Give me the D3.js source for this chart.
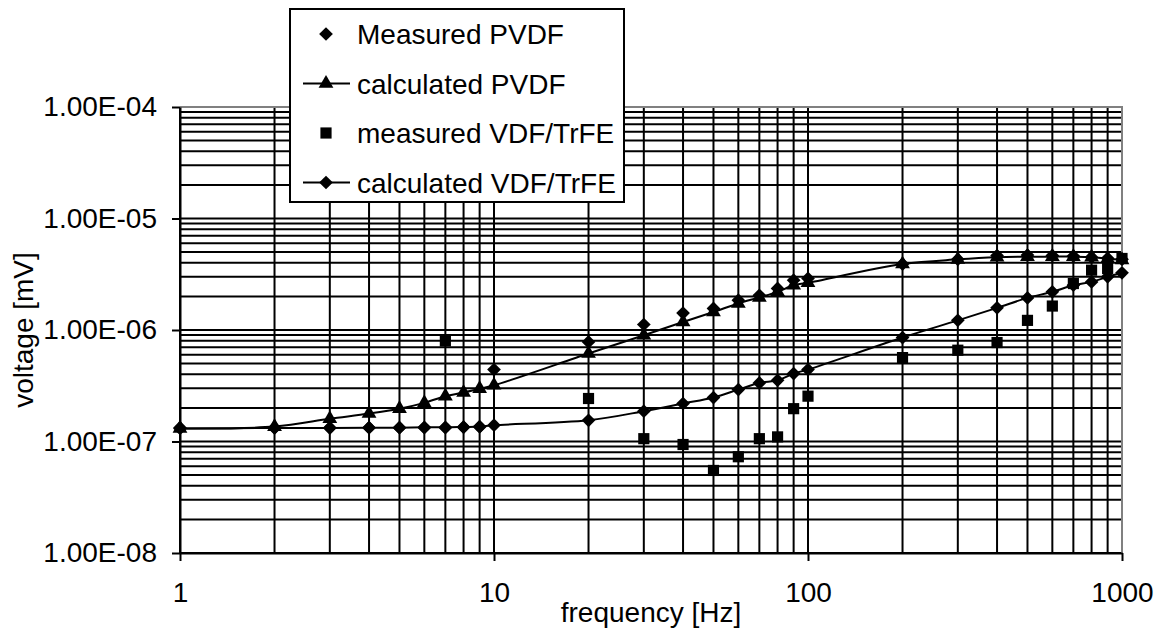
<body style="margin:0;background:#fff">

<script src="https://d3js.org/d3.v7.min.js"></script>

<script>
// chart size
var svgWidth = 1161;
var svgHeight = 630;
// plot area edges (note: "top" is taken by window.top, so use other names)
var plotLeft = 180, plotRight = 1122, plotTop = 107, plotBottom = 553;
var fontFam = 'Arial, "Liberation Sans", sans-serif';
var fontSize = 28;

// data
var freq = [1,2,3,4,5,6,7,8,9,10,20,30,40,50,60,70,80,90,100,200,300,400,500,600,700,800,900,1000];
var measuredPVDF = [1.33e-7,1.33e-7,1.33e-7,1.33e-7,1.33e-7,1.33e-7,1.33e-7,1.34e-7,1.35e-7,4.42e-7,
	7.82e-7,1.12e-6,1.42e-6,1.56e-6,1.85e-6,2.05e-6,2.36e-6,2.8e-6,2.9e-6,
	3.9e-6,4.3e-6,4.65e-6,4.7e-6,4.65e-6,4.6e-6,4.5e-6,4.4e-6,4.3e-6];
var calcPVDF = [1.31e-7,1.36e-7,1.6e-7,1.78e-7,1.97e-7,2.22e-7,2.55e-7,2.75e-7,2.98e-7,3.19e-7,
	6.15e-7,8.98e-7,1.18e-6,1.45e-6,1.73e-6,1.96e-6,2.2e-6,2.52e-6,2.65e-6,
	3.9e-6,4.3e-6,4.5e-6,4.55e-6,4.55e-6,4.55e-6,4.5e-6,4.35e-6,4.25e-6];
var measuredVDFFreq = [7,20,30,40,50,60,70,80,90,100,200,300,400,500,600,700,800,900,1000];
var measuredVDF = [7.98e-7,2.43e-7,1.06e-7,9.4e-8,5.5e-8,7.3e-8,1.06e-7,1.1e-7,1.97e-7,2.55e-7,
	5.66e-7,6.59e-7,7.72e-7,1.22e-6,1.64e-6,2.61e-6,3.44e-6,3.56e-6,4.38e-6];
var calcVDF = [1.31e-7,1.32e-7,1.32e-7,1.33e-7,1.33e-7,1.34e-7,1.34e-7,1.35e-7,1.36e-7,1.4e-7,
	1.55e-7,1.87e-7,2.19e-7,2.48e-7,2.92e-7,3.35e-7,3.54e-7,4.07e-7,4.42e-7,
	8.56e-7,1.22e-6,1.58e-6,1.94e-6,2.2e-6,2.52e-6,2.7e-6,3.0e-6,3.26e-6];

// tick labels
var xTicks = [1,10,100,1000];
var xTickLabels = ['1','10','100','1000'];
var yTicks = [1e-8,1e-7,1e-6,1e-5,1e-4];
var yTickLabels = ['1.00E-08','1.00E-07','1.00E-06','1.00E-05','1.00E-04'];
var legendNames = ['Measured PVDF','calculated PVDF','measured VDF/TrFE','calculated VDF/TrFE'];

var svg = d3.select('body').append('svg')
	.attr('width', svgWidth)
	.attr('height', svgHeight)
	.style('display','block')
	.style('font-family', fontFam);

var x = d3.scaleLog().domain([1,1000]).range([plotLeft,plotRight]);
var y = d3.scaleLog().domain([1e-8,1e-4]).range([plotBottom,plotTop]);

// grid (all decades with 1..9 steps)
svg.append('g').selectAll('line')
	.data(x.ticks())
	.enter().append('line')
	.attr('x1', function(d){ return x(d) })
	.attr('x2', function(d){ return x(d) })
	.attr('y1', plotTop)
	.attr('y2', plotBottom)
	.attr('stroke','#000')
	.attr('stroke-width',2);

svg.append('g').selectAll('line')
	.data(y.ticks())
	.enter().append('line')
	.attr('x1', plotLeft)
	.attr('x2', plotRight)
	.attr('y1', function(d){ return y(d) })
	.attr('y2', function(d){ return y(d) })
	.attr('stroke','#000')
	.attr('stroke-width',2);

// plot border top / right (grey)
svg.append('path')
	.attr('d', 'M' + plotLeft + ',' + plotTop + 'H' + plotRight + 'V' + plotBottom)
	.attr('fill','none')
	.attr('stroke','#808080')
	.attr('stroke-width',2);

// axes
var xAxis = svg.append('g')
	.attr('transform','translate(0,' + plotBottom + ')')
	.call(d3.axisBottom(x).tickValues(xTicks)
		.tickFormat(function(d,i){ return xTickLabels[i] })
		.tickSize(8).tickSizeOuter(0).tickPadding(21));
var yAxis = svg.append('g')
	.attr('transform','translate(' + plotLeft + ',0)')
	.call(d3.axisLeft(y).tickValues(yTicks)
		.tickFormat(function(d,i){ return yTickLabels[i] })
		.tickSize(8).tickSizeOuter(0).tickPadding(15));

[xAxis, yAxis].forEach(function(a){
	a.attr('font-family', fontFam).attr('font-size', fontSize);
	a.select('.domain').attr('stroke','#000').attr('stroke-width',2);
	a.selectAll('.tick line').attr('stroke','#000').attr('stroke-width',2);
	a.selectAll('.tick text').attr('fill','#000');
});

// axis titles
svg.append('text')
	.attr('x', (plotLeft + plotRight) / 2)
	.attr('y', 622)
	.attr('text-anchor','middle')
	.attr('font-size', fontSize)
	.text('frequency [Hz]');

svg.append('text')
	.attr('transform','translate(33,' + ((plotTop + plotBottom) / 2) + ') rotate(-90)')
	.attr('text-anchor','middle')
	.attr('font-size', fontSize)
	.text('voltage [mV]');

// markers
var diamond = d3.symbol().type(d3.symbolDiamond2).size(120);
var triangle = d3.symbol().type(d3.symbolTriangle).size(95);
var square = d3.symbol().type(d3.symbolSquare).size(125);

var line = d3.line()
	.x(function(d){ return x(d[0]) })
	.y(function(d){ return y(d[1]) })
	.curve(d3.curveCatmullRom.alpha(0.5));

function pairs(xs, ys){
	return xs.map(function(d,i){ return [d, ys[i]] });
}

var calcPVDFPts = pairs(freq, calcPVDF);
var calcVDFPts = pairs(freq, calcVDF);

svg.append('path')
	.attr('d', line(calcPVDFPts))
	.attr('fill','none')
	.attr('stroke','#000')
	.attr('stroke-width',2);
svg.append('path')
	.attr('d', line(calcVDFPts))
	.attr('fill','none')
	.attr('stroke','#000')
	.attr('stroke-width',2);

function drawMarks(pts, sym){
	svg.append('g').selectAll('path')
		.data(pts)
		.enter().append('path')
		.attr('d', sym)
		.attr('transform', function(d){ return 'translate(' + x(d[0]) + ',' + y(d[1]) + ')' })
		.attr('fill','#000');
}

drawMarks(pairs(freq, measuredPVDF), diamond);
drawMarks(calcPVDFPts, triangle);
drawMarks(pairs(measuredVDFFreq, measuredVDF), square);
drawMarks(calcVDFPts, diamond);

// legend
var lg = svg.append('g');
lg.append('rect')
	.attr('x',290).attr('y',9)
	.attr('width',334).attr('height',193)
	.attr('fill','#fff')
	.attr('stroke','#000')
	.attr('stroke-width',2);

var legendSyms = [diamond, triangle, square, diamond];
var legendLine = [false, true, false, true];

legendNames.forEach(function(name,i){
	var ly = 34 + i * 49.5;
	if (legendLine[i]) {
		lg.append('line')
			.attr('x1',303).attr('x2',350)
			.attr('y1',ly).attr('y2',ly)
			.attr('stroke','#000').attr('stroke-width',2);
	}
	lg.append('path')
		.attr('d', legendSyms[i])
		.attr('transform','translate(326,' + ly + ')')
		.attr('fill','#000');
	lg.append('text')
		.attr('x',357)
		.attr('y',ly + 10)
		.attr('font-size', fontSize)
		.text(name);
});
</script>
</body>
